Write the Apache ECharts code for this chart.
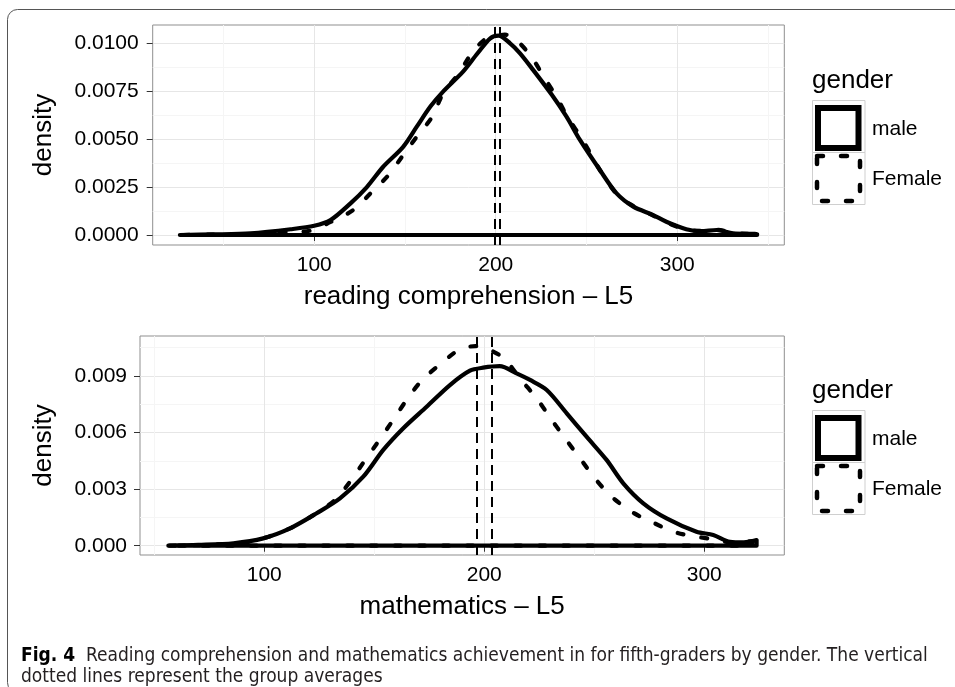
<!DOCTYPE html>
<html>
<head>
<meta charset="utf-8">
<script src="https://cdn.jsdelivr.net/npm/echarts@6/dist/echarts.min.js"></script>
<style>
html,body{margin:0;padding:0;background:#fff;}
#chart{width:955px;height:687px;}
</style>
</head>
<body>
<div id="chart"></div>
<script>
// ---------- data ----------
const groups = ['male', 'Female'];

// Panel 1: reading comprehension – L5, kernel density [score, density]
const readingMale = [[26,0],[45,0.00003],[65,0.00009],[87,0.0003],[100,0.00048],[109,0.00078],[120,0.00165],[129,0.0025],[138,0.00356],[149,0.0046],[156.5,0.00565],[164,0.0067],[171,0.00748],[182,0.00852],[190,0.00948],[197,0.01026],[201.5,0.0104],[207.9,0.01],[213.4,0.00948],[220.7,0.0086],[231,0.0073],[239,0.00617],[246.4,0.00496],[257.4,0.00339],[266.6,0.00217],[275.8,0.00148],[286.8,0.00104],[294,0.00069],[305,0.0003],[313,0.0002],[321.7,0.00026],[330.8,0.00009],[344,0.00005]];
const readingFemale = [[28,0],[60,0.00005],[85,0.00015],[98.5,0.00024],[109,0.00068],[121,0.00127],[131,0.00217],[141,0.00313],[149,0.00417],[156.5,0.00513],[165,0.00617],[171,0.00739],[179.4,0.0084],[187,0.00951],[194,0.0102],[200,0.01038],[205,0.01045],[209.7,0.01031],[218.9,0.00939],[226.2,0.0083],[233.6,0.00718],[240,0.00609],[247.9,0.00496],[254.7,0.00382],[261,0.00285],[268,0.002],[277,0.00145],[287,0.001],[295,0.00062],[305,0.00028],[315,0.00022],[322,0.00027],[331,0.0001],[342,0.00004]];
const readingMeans = [199.6, 202.0];   // male, Female

// Panel 2: mathematics – L5
const mathMale = [[56.4,0],[70,0.00004],[86,0.00013],[99.5,0.00039],[111.7,0.00092],[123.8,0.00172],[134.4,0.00251],[145,0.00366],[154.1,0.00508],[163.2,0.00623],[173.8,0.00737],[184.4,0.00852],[193.5,0.00928],[199.5,0.00944],[207,0.00952],[214.7,0.00914],[220.8,0.00879],[228.4,0.00826],[237.5,0.00702],[246.5,0.00578],[255.6,0.00455],[263.2,0.00331],[272.3,0.00225],[282.9,0.00145],[296.5,0.00074],[304.1,0.00057],[311.7,0.00021],[318,0.00018],[323.8,0.0003]];
const mathFemale = [[57,0],[75,0.00005],[93.5,0.0002],[111.7,0.00092],[122,0.0016],[132.1,0.00242],[139,0.0034],[145,0.0044],[151.8,0.00552],[158.6,0.00667],[164.7,0.00773],[171.5,0.00875],[179.9,0.00962],[189,0.01042],[196,0.01058],[202.6,0.01038],[209.4,0.00989],[216,0.0089],[223.8,0.00782],[229.9,0.0068],[236.7,0.0057],[243.5,0.00464],[250.3,0.00357],[257.9,0.0026],[267,0.0018],[276.8,0.00122],[287.5,0.00069],[298,0.00045],[306,0.0003],[312,0.00018],[318,0.0002],[322,0.00025]];
const mathMeans = [203.4, 196.5];      // male, Female

// axis ticks
const xTicks = [100, 200, 300];
const xMinorTop = [50, 150, 250, 350];
const xMinorBottom = [50, 150, 250];
const yTicksTop = [0, 0.0025, 0.005, 0.0075, 0.01];
const yMinorTop = [0.00125, 0.00375, 0.00625, 0.00875];
const yTicksBottom = [0, 0.003, 0.006, 0.009];
const yMinorBottom = [0.0015, 0.0045, 0.0075, 0.0105];

const xTitles = ['reading comprehension \u2013 L5', 'mathematics \u2013 L5'];
const yTitle = 'density';
const legendTitle = 'gender';
const captionBold = 'Fig. 4';
const captionLine1 = 'Reading comprehension and mathematics achievement in for fifth-graders by gender. The vertical';
const captionLine2 = 'dotted lines represent the group averages';

// ---------- helpers ----------
// close the density outline along the baseline, as a density polygon does
function outline(pts) {
  const first = pts[0], last = pts[pts.length - 1];
  return pts.concat([[last[0], 0], [first[0], 0]]);
}

const FONT = '"Liberation Sans", Arial, Helvetica, sans-serif';
const panels = [
  {grid:{left:152.7, top:25, width:631.6, height:220}, xMin:11, xMax:359, yMin:-0.000522, yMax:0.010955,
   yTicks:yTicksTop, yMinor:yMinorTop, xMinor:xMinorTop, dec:4, yLabelMargin:14, yNameGap:96,
   male:readingMale, female:readingFemale, means:readingMeans, title:xTitles[0]},
  {grid:{left:140, top:336, width:644.3, height:219}, xMin:43.5, xMax:336.4, yMin:-0.000493, yMax:0.011121,
   yTicks:yTicksBottom, yMinor:yMinorBottom, xMinor:xMinorBottom, dec:3, yLabelMargin:13, yNameGap:83,
   male:mathMale, female:mathFemale, means:mathMeans, title:xTitles[1]}
];

const grids = [], xAxes = [], yAxes = [], series = [];
panels.forEach((p, i) => {
  grids.push(Object.assign({show:true, borderColor:'#8f8f8f', borderWidth:1, backgroundColor:'#fff', containLabel:false}, p.grid));
  // minor grid axes
  xAxes.push({type:'value', gridIndex:i, position:'top', min:p.xMin, max:p.xMax,
    axisLine:{show:false}, axisTick:{show:false, customValues:p.xMinor}, axisLabel:{show:false},
    splitLine:{show:true, lineStyle:{color:'#F5F5F5', width:1}}});
  yAxes.push({type:'value', gridIndex:i, position:'right', min:p.yMin, max:p.yMax,
    axisLine:{show:false}, axisTick:{show:false, customValues:p.yMinor}, axisLabel:{show:false},
    splitLine:{show:true, lineStyle:{color:'#F5F5F5', width:1}}});
  // major axes
  xAxes.push({type:'value', gridIndex:i, position:'bottom', min:p.xMin, max:p.xMax,
    name:p.title, nameLocation:'middle', nameGap:39,
    nameTextStyle:{fontFamily:FONT, fontSize:26, color:'#000'},
    axisLine:{show:false},
    axisTick:{show:true, length:6, inside:false, customValues:xTicks, lineStyle:{color:'#333', width:1}},
    axisLabel:{show:true, customValues:xTicks, margin:10, fontFamily:FONT, fontSize:21, color:'#000'},
    splitLine:{show:true, lineStyle:{color:'#E6E6E6', width:1}}});
  yAxes.push({type:'value', gridIndex:i, position:'left', min:p.yMin, max:p.yMax,
    name:yTitle, nameLocation:'middle', nameGap:p.yNameGap, nameRotate:90,
    nameTextStyle:{fontFamily:FONT, fontSize:26, color:'#000'},
    axisLine:{show:false},
    axisTick:{show:true, length:6, inside:false, customValues:p.yTicks, lineStyle:{color:'#333', width:1}},
    axisLabel:{show:true, customValues:p.yTicks, margin:p.yLabelMargin, fontFamily:FONT, fontSize:21, color:'#000',
      formatter: v => Number(v).toFixed(p.dec)},
    splitLine:{show:true, lineStyle:{color:'#E6E6E6', width:1}}});

  const xi = 2*i + 1, yi = 2*i + 1;
  [[p.male, p.means[0], 'solid', groups[0]], [p.female, p.means[1], [6, 18], groups[1]]].forEach(([pts, mean, dash, name]) => {
    series.push({
      type:'line', name:name, xAxisIndex:xi, yAxisIndex:yi,
      data: outline(pts), symbol:'none', showSymbol:false, smooth:0.3,
      lineStyle:{color:'#000', width:4.2, type:dash, cap:'round', join:'round'},
      z:3,
      markLine:{silent:true, symbol:['none','none'], label:{show:false}, animation:false,
        lineStyle:{color:'#000', width:2, type:[10,6]},
        data:[{xAxis:mean}]}
    });
  });
});

// ---------- legend (drawn like the reference key boxes) ----------
function legendGraphics(dy) {
  const g = [];
  g.push({type:'text', left:812, top:68+dy, style:{text:legendTitle, font:'26px ' + FONT, fill:'#000'}});
  // key backgrounds
  g.push({type:'rect', shape:{x:812.5, y:100.5, width:52.5, height:52}, style:{fill:'#fff', stroke:'#cfcfcf', lineWidth:1}, position:[0,dy]});
  g.push({type:'rect', shape:{x:812.5, y:152.5, width:52.5, height:52}, style:{fill:'#fff', stroke:'#cfcfcf', lineWidth:1}, position:[0,dy]});
  // male: solid square
  g.push({type:'rect', shape:{x:818, y:108, width:40.5, height:40}, style:{fill:'none', stroke:'#000', lineWidth:6}, position:[0,dy]});
  // Female: dashed square
  g.push({type:'rect', shape:{x:817, y:156, width:43, height:45}, style:{fill:'none', stroke:'#000', lineWidth:4.5, lineDash:[6,18], lineCap:'round'}, position:[0,dy]});
  g.push({type:'text', left:872, top:119+dy, style:{text:groups[0], font:'21px ' + FONT, fill:'#000'}});
  g.push({type:'text', left:872, top:169+dy, style:{text:groups[1], font:'21px ' + FONT, fill:'#000'}});
  return g;
}

const CAPFONT = '"Liberation Sans Narrow", "DejaVu Sans Condensed", "Roboto Condensed", "Liberation Sans", sans-serif';
const graphics = [
  {type:'rect', shape:{x:7.5, y:9.5, width:1000, height:683, r:10}, style:{fill:'none', stroke:'#555', lineWidth:1}, z:-10, silent:true},
  ...legendGraphics(0),
  ...legendGraphics(310),
  {type:'text', left:21, top:647, style:{
    text:'{b|' + captionBold + '}  ' + captionLine1,
    font:'19px ' + CAPFONT, fill:'#231f20',
    rich:{b:{fontWeight:'bold', fontSize:19, fontFamily:CAPFONT, fill:'#000'}}}},
  {type:'text', left:21, top:668, style:{text:captionLine2, font:'19px ' + CAPFONT, fill:'#231f20'}}
];

const chart = echarts.init(document.getElementById('chart'), null, {renderer:'canvas'});
chart.setOption({
  animation:false,
  backgroundColor:'#fff',
  grid:grids, xAxis:xAxes, yAxis:yAxes, series:series, graphic:graphics
});
</script>
</body>
</html>
